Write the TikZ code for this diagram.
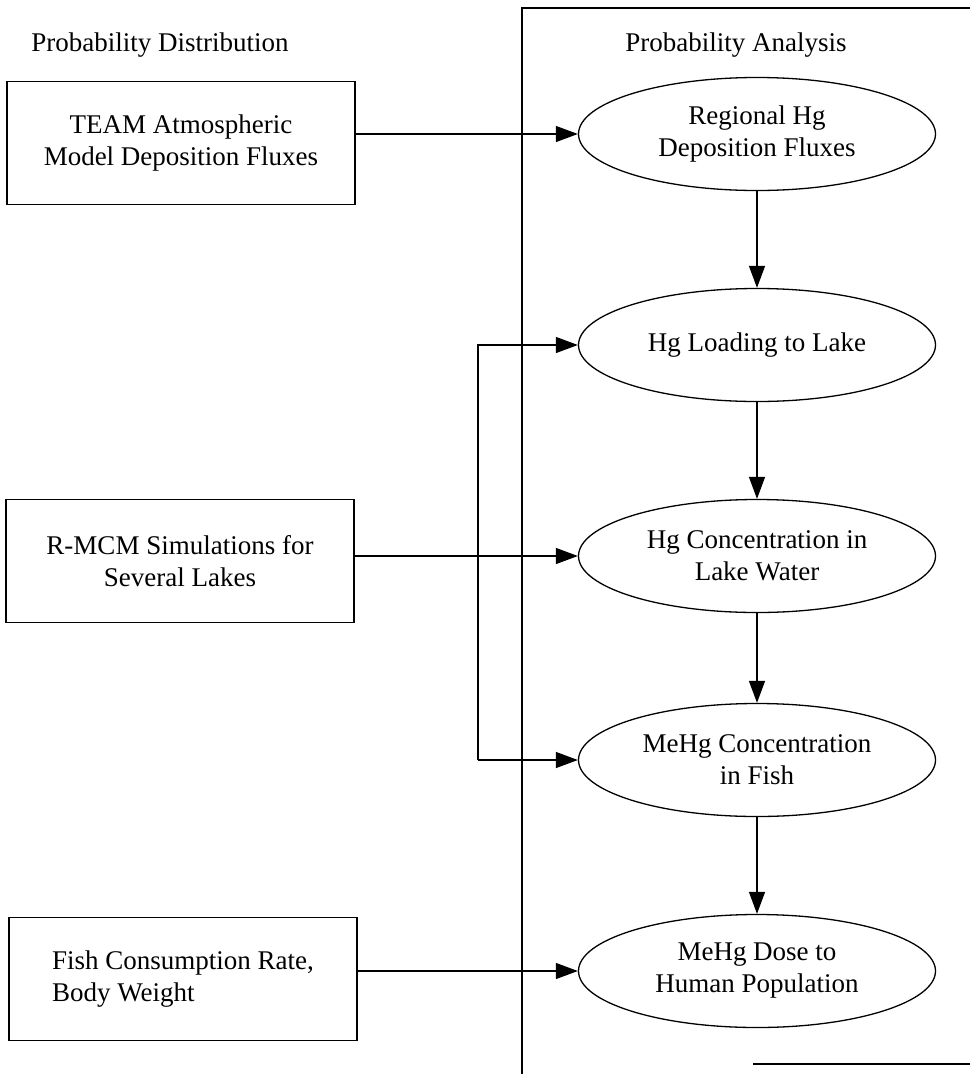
\documentclass[tikz,border=0pt]{standalone}
\usepackage{fontspec}
\setmainfont{Liberation Serif}
\usepackage{tikz}
\usetikzlibrary{arrows.meta,positioning,shapes.geometric}

\begin{document}
\begin{tikzpicture}[x=1pt,y=-1pt,font=\fontsize{27}{32}\selectfont,line width=1.3pt]
	\useasboundingbox (0,0) rectangle (970,1074);

	% frame of the analysis side
	\draw (522,1074) -- (522,8) -- (970,8);
	\draw (753,1064) -- (970,1064);

	\node (distr) at (160,45) {Probability Distribution};
	\node (anal) at (736,45) {Probability Analysis};

	\begin{scope}[every node/.style={rectangle,draw,line width=1.6pt,align=center,minimum width=348pt,minimum height=123pt,inner sep=0pt}]
		\node (team) at (181,143) {TEAM Atmospheric\\Model Deposition Fluxes};
		\node (rmcm) at (180,561) {R-MCM Simulations for\\Several Lakes};
		\node[align=left] (fish) at (183,979) {Fish Consumption Rate,\\Body Weight};
	\end{scope}

	\begin{scope}[every node/.style={ellipse,draw,align=center,minimum width=357pt,minimum height=113pt,inner sep=0pt}]
		\node (reg) at (757,134) {Regional Hg\\Deposition Fluxes};
		\node (load) at (757,345) {Hg Loading to Lake};
		\node (conc) at (757,556) {Hg Concentration in\\Lake Water};
		\node (mfish) at (757,760) {MeHg Concentration\\in Fish};
		\node (dose) at (757,971) {MeHg Dose to\\Human Population};
	\end{scope}

	\coordinate (byp) at (478,556);

	\begin{scope}[>={Triangle[length=22pt,width=16pt]}]
		\draw[->] (team.east |- reg.west) -- (reg.west);
		\draw[->] (rmcm.east |- conc.west) -- (conc.west);
		\draw[->] (fish.east |- dose.west) -- (dose.west);

		\draw[->] (byp |- mfish.west) -- (byp |- load.west) -- (load.west);
		\draw[->] (byp |- mfish.west) -- (mfish.west);

		\draw[->] (reg.south) -- (load.north);
		\draw[->] (load.south) -- (conc.north);
		\draw[->] (conc.south) -- (mfish.north);
		\draw[->] (mfish.south) -- (dose.north);
	\end{scope}
\end{tikzpicture}
\end{document}
